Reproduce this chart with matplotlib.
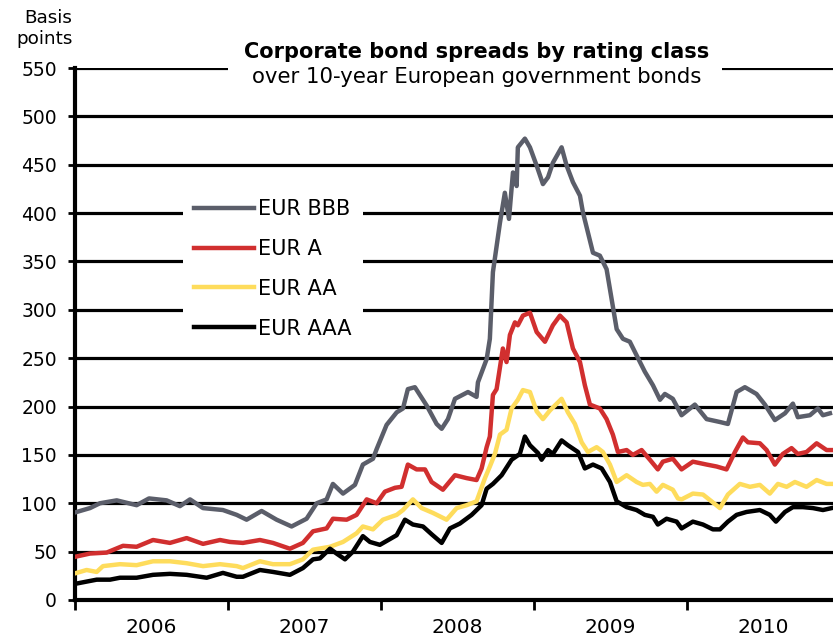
import matplotlib
matplotlib.use("Agg")
import matplotlib.pyplot as plt
from matplotlib.patches import Rectangle

# ---------------- data (decimal years, basis points) ----------------
bbb_t = [2006.011, 2006.098, 2006.163, 2006.273, 2006.403, 2006.484, 2006.599, 2006.686, 2006.752, 2006.837,
         2006.967, 2007.057, 2007.122, 2007.220, 2007.318, 2007.416, 2007.514, 2007.580, 2007.645, 2007.686,
         2007.752, 2007.830, 2007.882, 2007.948, 2007.972, 2008.037, 2008.103, 2008.144, 2008.176, 2008.222,
         2008.299, 2008.364, 2008.397, 2008.438, 2008.484, 2008.569, 2008.625, 2008.634, 2008.691, 2008.712,
         2008.732, 2008.778, 2008.810, 2008.837, 2008.863, 2008.887, 2008.895, 2008.941, 2008.974, 2009.018,
         2009.059, 2009.092, 2009.124, 2009.181, 2009.214, 2009.255, 2009.301, 2009.320, 2009.353, 2009.386,
         2009.431, 2009.475, 2009.508, 2009.541, 2009.582, 2009.627, 2009.671, 2009.725, 2009.778, 2009.824,
         2009.856, 2009.908, 2009.965, 2010.052, 2010.129, 2010.216, 2010.268, 2010.325, 2010.379, 2010.455,
         2010.510, 2010.575, 2010.641, 2010.693, 2010.725, 2010.804, 2010.856, 2010.889, 2010.935]
bbb_v = [91, 95, 100, 103, 98, 105, 103, 97, 104, 95,
         93, 88, 83, 92, 83, 76, 84, 100, 104, 120,
         110, 119, 140, 146, 156, 181, 194, 198, 218, 220,
         201, 182, 177, 187, 208, 215, 210, 225, 249, 270,
         339, 390, 421, 394, 442, 428, 468, 477, 468, 449,
         430, 437, 452, 468, 449, 432, 418, 401, 380, 359,
         356, 342, 311, 280, 270, 267, 253, 236, 222, 207,
         213, 208, 191, 202, 187, 184, 182, 215, 220, 213,
         202, 186, 193, 203, 189, 191, 198, 191, 193]

a_t = [2006.011, 2006.098, 2006.207, 2006.314, 2006.403, 2006.510, 2006.621, 2006.730, 2006.837, 2006.948,
       2007.013, 2007.098, 2007.209, 2007.294, 2007.405, 2007.490, 2007.556, 2007.645, 2007.686, 2007.776,
       2007.841, 2007.907, 2007.972, 2008.026, 2008.092, 2008.135, 2008.176, 2008.233, 2008.288, 2008.331,
       2008.405, 2008.484, 2008.560, 2008.625, 2008.658, 2008.691, 2008.712, 2008.732, 2008.756, 2008.797,
       2008.821, 2008.843, 2008.876, 2008.895, 2008.928, 2008.974, 2009.018, 2009.072, 2009.124, 2009.170,
       2009.214, 2009.255, 2009.301, 2009.333, 2009.366, 2009.431, 2009.475, 2009.516, 2009.549, 2009.606,
       2009.647, 2009.704, 2009.758, 2009.810, 2009.843, 2009.908, 2009.965, 2010.039, 2010.129, 2010.194,
       2010.259, 2010.314, 2010.366, 2010.399, 2010.477, 2010.521, 2010.575, 2010.627, 2010.684, 2010.725,
       2010.782, 2010.848, 2010.913, 2010.946]
a_v = [45, 48, 49, 56, 55, 62, 59, 64, 58, 62,
       60, 59, 62, 59, 53, 59, 71, 74, 84, 83,
       88, 104, 100, 112, 116, 117, 140, 135, 135, 122,
       114, 129, 126, 124, 136, 158, 169, 212, 218, 260,
       246, 274, 287, 284, 294, 297, 277, 267, 284, 294,
       287, 260, 246, 222, 202, 198, 187, 171, 153, 155,
       150, 155, 145, 135, 143, 146, 135, 143, 140, 138,
       135, 153, 168, 163, 162, 155, 140, 151, 157, 151,
       153, 162, 155, 155]

aa_t = [2006.011, 2006.076, 2006.142, 2006.183, 2006.294, 2006.403, 2006.510, 2006.621, 2006.730, 2006.837,
        2006.948, 2007.057, 2007.098, 2007.209, 2007.294, 2007.405, 2007.490, 2007.556, 2007.667, 2007.752,
        2007.841, 2007.882, 2007.948, 2008.013, 2008.103, 2008.144, 2008.209, 2008.266, 2008.340, 2008.429,
        2008.495, 2008.560, 2008.625, 2008.680, 2008.712, 2008.745, 2008.778, 2008.821, 2008.854, 2008.895,
        2008.928, 2008.974, 2009.018, 2009.059, 2009.105, 2009.181, 2009.222, 2009.268, 2009.312, 2009.353,
        2009.410, 2009.451, 2009.497, 2009.541, 2009.606, 2009.671, 2009.712, 2009.758, 2009.802, 2009.843,
        2009.908, 2009.941, 2009.965, 2010.039, 2010.105, 2010.161, 2010.216, 2010.268, 2010.346, 2010.412,
        2010.477, 2010.542, 2010.595, 2010.652, 2010.706, 2010.782, 2010.848, 2010.913, 2010.946]
aa_v = [28, 31, 29, 35, 37, 36, 40, 40, 38, 35,
        37, 35, 33, 40, 37, 37, 42, 52, 55, 60,
        69, 76, 73, 83, 88, 93, 104, 95, 90, 83,
        95, 98, 102, 126, 138, 151, 171, 176, 198, 207,
        217, 215, 195, 187, 196, 208, 194, 182, 163, 153,
        158, 153, 140, 122, 129, 122, 119, 120, 112, 119,
        114, 105, 104, 110, 109, 102, 95, 109, 120, 117,
        119, 110, 120, 117, 122, 117, 124, 120, 120]

aaa_t = [2006.011, 2006.076, 2006.142, 2006.229, 2006.294, 2006.403, 2006.510, 2006.621, 2006.730, 2006.861,
         2006.967, 2007.057, 2007.098, 2007.209, 2007.294, 2007.405, 2007.490, 2007.556, 2007.601, 2007.667,
         2007.710, 2007.765, 2007.817, 2007.882, 2007.928, 2007.993, 2008.059, 2008.103, 2008.157, 2008.209,
         2008.275, 2008.331, 2008.397, 2008.451, 2008.516, 2008.593, 2008.658, 2008.691, 2008.732, 2008.789,
         2008.854, 2008.908, 2008.941, 2008.974, 2009.026, 2009.050, 2009.092, 2009.124, 2009.181, 2009.222,
         2009.288, 2009.333, 2009.386, 2009.443, 2009.497, 2009.541, 2009.606, 2009.671, 2009.725, 2009.778,
         2009.810, 2009.867, 2009.933, 2009.965, 2010.039, 2010.105, 2010.170, 2010.216, 2010.268, 2010.325,
         2010.390, 2010.477, 2010.542, 2010.582, 2010.641, 2010.693, 2010.758, 2010.824, 2010.889, 2010.946]
aaa_v = [17, 19, 21, 21, 23, 23, 26, 27, 26, 23,
         28, 24, 24, 31, 29, 26, 33, 42, 43, 53,
         48, 42, 50, 66, 60, 57, 63, 67, 83, 78,
         76, 68, 59, 74, 79, 88, 98, 115, 120, 129,
         145, 151, 169, 160, 152, 145, 155, 151, 165, 160,
         153, 136, 140, 136, 122, 102, 96, 93, 88, 86,
         78, 84, 81, 74, 81, 78, 73, 73, 81, 88,
         91, 93, 88, 81, 91, 96, 96, 95, 93, 95]

series_labels = ["EUR BBB", "EUR A", "EUR AA", "EUR AAA"]
series_colors = ["#5b5e6a", "#d12f2f", "#fedc5c", "#000000"]

year_labels = ["2006", "2007", "2008", "2009", "2010"]
y_ticks = [0, 50, 100, 150, 200, 250, 300, 350, 400, 450, 500, 550]

title_text = "Corporate bond spreads by rating class"
subtitle_text = "over 10-year European government bonds"
ylabel_text = "Basis\npoints"

# ---------------- figure ----------------
plt.rcParams['font.family'] = ['DejaVu Sans']
fig = plt.figure(figsize=(8.33, 6.38), dpi=100)
ax = fig.add_axes([0.090, 0.0596, 0.910, 0.8338])

all_t = [bbb_t, a_t, aa_t, aaa_t]
all_v = [bbb_v, a_v, aa_v, aaa_v]
for t, v, lab, col in zip(all_t, all_v, series_labels, series_colors):
    ax.plot(t, v, color=col, lw=3.2, label=lab, zorder=3, solid_joinstyle='round')

ax.set_xlim(2006.0, 2010.955)
ax.set_ylim(0, 550)

ax.set_yticks(y_ticks)
ax.set_yticklabels([str(y) for y in y_ticks], fontsize=13.5)
ax.yaxis.grid(True, color='black', lw=2.3)
ax.set_axisbelow(True)
ax.tick_params(axis='y', length=5, width=2, pad=8, color='black')

years = [int(y) for y in year_labels]
ax.set_xticks(years)
ax.set_xticklabels([])
ax.set_xticks([y + 0.5 for y in years], minor=True)
ax.set_xticklabels(year_labels, minor=True, fontsize=14.5,
                   family=['Liberation Sans Narrow', 'DejaVu Sans'])
ax.tick_params(axis='x', which='major', length=7, width=2, direction='out')
ax.tick_params(axis='x', which='minor', length=0, pad=13)

for s in ['top', 'right']:
    ax.spines[s].set_visible(False)
ax.spines['left'].set_linewidth(3)
ax.spines['bottom'].set_linewidth(3)

# white title box that interrupts the top gridline
ax.add_patch(Rectangle((0.202, 0.952), 0.652, 0.09, transform=ax.transAxes,
                       facecolor='white', edgecolor='none', zorder=4, clip_on=False))
ax.text(0.53, 1.030, title_text, transform=ax.transAxes, ha='center', va='center',
        fontsize=15, fontweight='bold', zorder=5)
ax.text(0.53, 0.983, subtitle_text, transform=ax.transAxes, ha='center', va='center',
        fontsize=15.3, zorder=5)

fig.text(0.087, 0.955, ylabel_text, ha='right', va='center', fontsize=13.2,
         linespacing=1.25, multialignment='right')

leg = ax.legend(loc='upper left', bbox_to_anchor=(0.142, 0.775), frameon=True,
                fontsize=15, handlelength=2.9, handletextpad=0.15, labelspacing=0.95,
                borderpad=0.55, borderaxespad=0)
leg.get_frame().set_facecolor('white')
leg.get_frame().set_edgecolor('none')
leg.get_frame().set_alpha(1)
leg.set_zorder(6)

fig.savefig("out.png", dpi=100)
